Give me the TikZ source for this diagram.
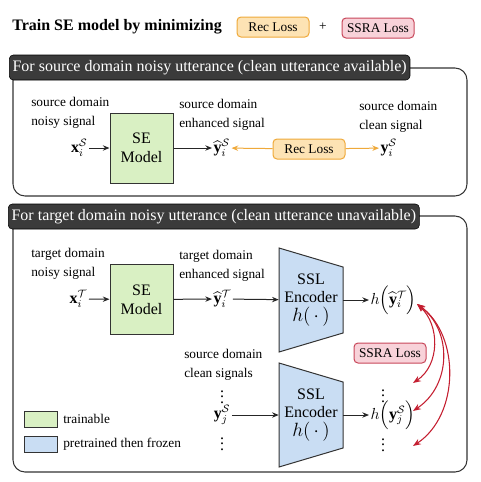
\documentclass[tikz,border=0pt]{standalone}
\usepackage{amsmath,amssymb}
\usepackage{fontspec}
\setmainfont{Liberation Serif}
\usepackage{xcolor}
\usepackage{tikz}
\usetikzlibrary{arrows.meta, positioning, calc}

\definecolor{segreen}{HTML}{D9F0C3}
\definecolor{sslblue}{HTML}{C9DDF3}
\definecolor{recfill}{HTML}{FDE3B4}
\definecolor{recline}{HTML}{EFA93A}
\definecolor{ssrafill}{HTML}{F8D2D9}
\definecolor{ssraline}{HTML}{C8475A}
\definecolor{ssrared}{HTML}{C41E30}
\definecolor{tabgray}{HTML}{3B3B3B}

\begin{document}
\begin{tikzpicture}[
    x=0.75pt, y=-0.75pt,
    panel/.style={rectangle, draw=black!80, line width=0.8pt, rounded corners=9pt, minimum width=340.5pt},
    tab/.style={rectangle, draw=black, fill=tabgray, text=white, rounded corners=3pt, font=\large, minimum height=18.75pt, inner xsep=2.5pt, inner ysep=0pt, anchor=west},
    semodel/.style={rectangle, draw=black!80, line width=0.75pt, fill=segreen, minimum width=47.25pt, minimum height=52.5pt, font=\large, align=center},
    encbox/.style={draw=black!80, line width=0.75pt, fill=sslblue},
    enctext/.style={minimum width=48pt, inner sep=0pt, font=\large, align=center},
    recloss/.style={rectangle, draw=recline, line width=0.75pt, fill=recfill, rounded corners=3pt, minimum width=54pt, minimum height=15pt},
    ssraloss/.style={rectangle, draw=ssraline, line width=0.75pt, fill=ssrafill, rounded corners=3pt, minimum width=54pt, minimum height=15pt},
    lbl/.style={align=left, anchor=west, inner sep=0pt, font=\fontsize{10}{14}\selectfont},
    sig/.style={inner sep=1pt, font=\large},
    legbox/.style={rectangle, draw=black!80, line width=0.6pt, minimum width=24.75pt, minimum height=12pt},
    arr/.style={-{Stealth[length=5pt, width=4pt]}, line width=0.75pt, black!85},
    recarr/.style={-{Stealth[length=5pt, width=4pt]}, line width=0.75pt, recline},
    ssraarr/.style={{Stealth[length=6pt, width=4.5pt]}-{Stealth[length=6pt, width=4.5pt]}, line width=0.8pt, ssrared}
]
\useasboundingbox (0,0) rectangle (480,482);

% Title
\node[anchor=west, inner sep=0pt, font=\large\bfseries] (title) at (12,27) {Train SE model by minimizing};
\node[recloss] (recleg) at (273,27) {Rec Loss};
\node (plus) at (323,27) {+};
\node[ssraloss] (ssraleg) at (378,28) {SSRA Loss};

% Source domain panel
\node[panel, minimum height=96pt] (srcpanel) at (240,132) {};
\node[tab] (srctab) at (9,67.5) {For source domain noisy utterance (clean utterance available)};

\node[semodel] (seS) at (141.5,148) {SE\\Model};
\node[sig, anchor=east] (xS) at (89,148) {$\mathbf{x}_i^{\mathcal{S}}$};
\node[sig, anchor=west] (yhatS) at (212,148) {$\widehat{\mathbf{y}}_i^{\mathcal{S}}$};
\node[recloss] (recS) at (309,149) {Rec Loss};
\node[sig, anchor=west] (yS) at (379,148) {$\mathbf{y}_i^{\mathcal{S}}$};

\node[lbl] (srcnoisy) at (31,112.5) {source domain\\noisy signal};
\node[lbl] (srcenh) at (179,114.5) {source domain\\enhanced signal};
\node[lbl] (srcclean) at (359,117) {source domain\\clean signal};

% Target domain panel
\node[panel, minimum height=192pt] (tgtpanel) at (240,344) {};
\node[tab] (tgttab) at (8,216.5) {For target domain noisy utterance (clean utterance unavailable)};

\node[semodel] (seT) at (141.5,299.5) {SE\\Model};
\node[sig, anchor=east] (xT) at (89,299) {$\mathbf{x}_i^{\mathcal{T}}$};
\node[sig, anchor=west] (yhatT) at (212,299) {$\widehat{\mathbf{y}}_i^{\mathcal{T}}$};

\node[lbl] (tgtnoisy) at (31,263.5) {target domain\\noisy signal};
\node[lbl] (tgtenh) at (179,265.5) {target domain\\enhanced signal};

% SSL encoders
\coordinate (e1) at (311,300);
\draw[encbox] ($(e1)+(-32,-52)$) -- ($(e1)+(32,-33)$) -- ($(e1)+(32,33)$) -- ($(e1)+(-32,52)$) -- cycle;
\node[enctext] (enc1) at (e1) {SSL\\Encoder\\{\Large $h(\,\cdot\,)$}};
\coordinate (e2) at (311,415);
\draw[encbox] ($(e2)+(-32,-52)$) -- ($(e2)+(32,-33)$) -- ($(e2)+(32,33)$) -- ($(e2)+(-32,52)$) -- cycle;
\node[enctext] (enc2) at (e2) {SSL\\Encoder\\{\Large $h(\,\cdot\,)$}};

\node[sig, anchor=west] (hT) at (369,300) {$h\Bigl(\widehat{\mathbf{y}}_i^{\mathcal{T}}\Bigr)$};
\node[sig, anchor=west] (hS) at (369,415) {$h\Bigl(\mathbf{y}_j^{\mathcal{S}}\Bigr)$};

\node[lbl] (srcclean2) at (184,364.5) {source domain\\clean signals};
\node[sig, inner sep=0pt] (vdA) at (222,393) {$\vdots$};
\node[sig] (yjS) at (222,415) {$\mathbf{y}_j^{\mathcal{S}}$};
\node[sig, inner sep=0pt] (vdB) at (222,440) {$\vdots$};
\node[sig, inner sep=0pt] (vdC) at (383,392) {$\vdots$};
\node[sig, inner sep=0pt] (vdD) at (383,441) {$\vdots$};

\node[ssraloss] (ssraT) at (390,353) {SSRA Loss};
\coordinate (sstart) at (417,304);
\coordinate (send1) at (413,383);
\coordinate (send2) at (413,411);
\coordinate (send3) at (413,446);

% Legend
\node[legbox, fill=segreen] (leggreen) at (40.5,419) {};
\node[lbl] (legtrain) at (63,419) {trainable};
\node[legbox, fill=sslblue] (legblue) at (40.5,444) {};
\node[lbl] (legfrozen) at (63,444) {pretrained then frozen};

% Arrows
\draw[arr] (xS) -- (seS);
\draw[arr] (seS) -- (yhatS);
\draw[recarr] (recS) -- (yhatS);
\draw[recarr] (recS) -- (yS);

\draw[arr] (xT) -- (seT);
\draw[arr] (seT) -- (yhatT);
\draw[arr] (yhatT) -- (enc1);
\draw[arr] (enc1) -- (hT);
\draw[arr] (yjS) -- (enc2);
\draw[arr] (enc2) -- (hS);

\draw[ssraarr] (sstart) .. controls (440,325) and (440,365) .. (send1);
\draw[ssraarr] (sstart) .. controls (452,330) and (452,385) .. (send2);
\draw[ssraarr] (sstart) .. controls (460,335) and (460,415) .. (send3);
\end{tikzpicture}
\end{document}
